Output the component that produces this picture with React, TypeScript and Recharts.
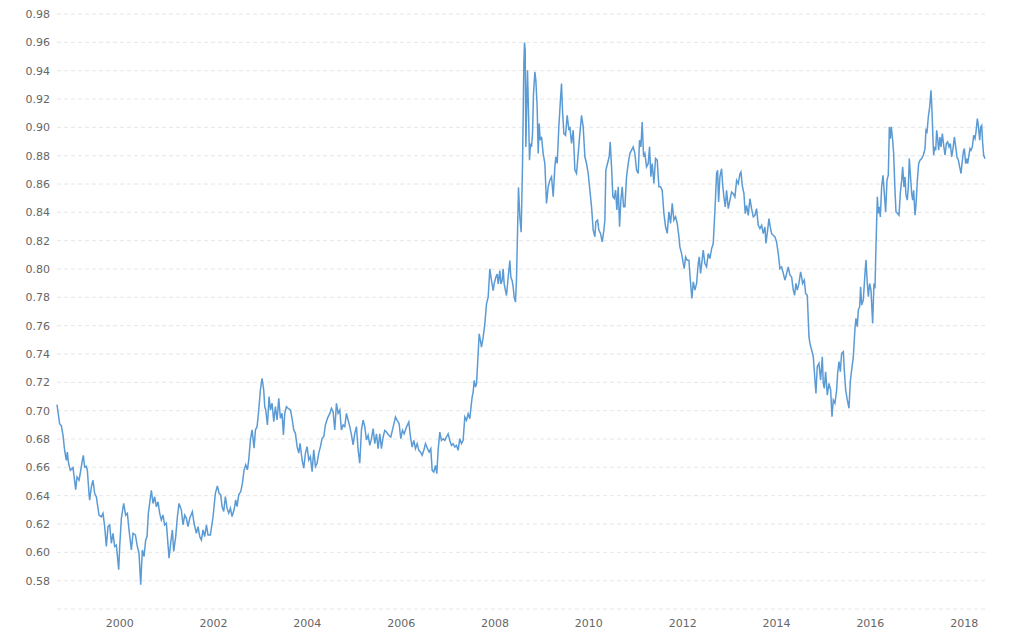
import { LineChart, Line, XAxis, YAxis, CartesianGrid } from "recharts";

const yearTicks = [2000, 2002, 2004, 2006, 2008, 2010, 2012, 2014, 2016, 2018];

const rateTicks = [
  0.56, 0.58, 0.6, 0.62, 0.64, 0.66, 0.68, 0.7, 0.72, 0.74, 0.76, 0.78, 0.8,
  0.82, 0.84, 0.86, 0.88, 0.9, 0.92, 0.94, 0.96, 0.98,
];

// [decimal year, rate]
const rates1998to2001: [number, number][] = [
  [1998.664, 0.7042], [1998.721, 0.6906], [1998.756, 0.6895], [1998.792, 0.6825],
  [1998.827, 0.6719], [1998.863, 0.6649], [1998.884, 0.6708], [1998.906, 0.6637],
  [1998.948, 0.6579], [1999.005, 0.6598], [1999.062, 0.6443], [1999.09, 0.6532],
  [1999.133, 0.6509], [1999.161, 0.656], [1999.204, 0.6649], [1999.225, 0.6684],
  [1999.254, 0.6602], [1999.289, 0.6607], [1999.311, 0.6579], [1999.346, 0.6415],
  [1999.36, 0.6368], [1999.396, 0.6462], [1999.431, 0.6509], [1999.467, 0.6415],
  [1999.503, 0.6392], [1999.559, 0.6263], [1999.609, 0.6251], [1999.645, 0.6275],
  [1999.68, 0.6181], [1999.716, 0.6041], [1999.751, 0.6181], [1999.787, 0.6193],
  [1999.822, 0.6064], [1999.858, 0.6134], [1999.893, 0.6041], [1999.929, 0.6052],
  [1999.979, 0.5877], [2000.0, 0.6041], [2000.036, 0.624], [2000.085, 0.6345],
  [2000.128, 0.6263], [2000.164, 0.6275], [2000.199, 0.6158], [2000.249, 0.6017],
  [2000.284, 0.6134], [2000.334, 0.6123], [2000.377, 0.6041], [2000.412, 0.5994],
  [2000.448, 0.5772], [2000.483, 0.6017], [2000.519, 0.597], [2000.554, 0.6087],
  [2000.583, 0.6111], [2000.611, 0.6275], [2000.675, 0.6438], [2000.711, 0.6345],
  [2000.746, 0.6392], [2000.782, 0.6321], [2000.817, 0.6357], [2000.853, 0.6275],
  [2000.888, 0.6228], [2000.924, 0.6263], [2000.959, 0.6193], [2000.995, 0.6205],
  [2001.052, 0.5959], [2001.087, 0.6064], [2001.123, 0.6158], [2001.151, 0.6006],
  [2001.194, 0.6111], [2001.23, 0.6251], [2001.265, 0.6345], [2001.315, 0.6298],
  [2001.35, 0.6193], [2001.386, 0.6263], [2001.421, 0.624], [2001.457, 0.6181],
  [2001.493, 0.624], [2001.549, 0.6287], [2001.585, 0.6205], [2001.635, 0.6134],
  [2001.67, 0.6181], [2001.706, 0.6111], [2001.741, 0.6087], [2001.777, 0.6158],
  [2001.812, 0.6111], [2001.848, 0.6193], [2001.883, 0.6123], [2001.933, 0.6123],
  [2001.99, 0.6251],
];

const rates2002to2005: [number, number][] = [
  [2002.04, 0.6417], [2002.083, 0.6469], [2002.118, 0.6417], [2002.154, 0.6406],
  [2002.182, 0.6323], [2002.217, 0.6288], [2002.253, 0.6394], [2002.288, 0.6312],
  [2002.324, 0.6276], [2002.36, 0.6312], [2002.395, 0.6253], [2002.438, 0.63],
  [2002.473, 0.637], [2002.502, 0.6323], [2002.537, 0.6406], [2002.58, 0.6429],
  [2002.616, 0.6488], [2002.651, 0.6582], [2002.687, 0.6617], [2002.722, 0.6582],
  [2002.751, 0.6652], [2002.786, 0.6793], [2002.822, 0.6864], [2002.864, 0.6735],
  [2002.893, 0.6864], [2002.928, 0.6887], [2002.964, 0.7005], [2002.999, 0.7146],
  [2003.035, 0.7228], [2003.07, 0.7146], [2003.092, 0.7028], [2003.113, 0.7005],
  [2003.149, 0.6899], [2003.184, 0.7099], [2003.213, 0.7005], [2003.248, 0.7052],
  [2003.284, 0.6923], [2003.319, 0.7028], [2003.355, 0.6934], [2003.39, 0.7087],
  [2003.426, 0.6946], [2003.461, 0.6981], [2003.49, 0.6829], [2003.518, 0.6981],
  [2003.554, 0.7028], [2003.589, 0.7017], [2003.639, 0.7005], [2003.674, 0.6946],
  [2003.71, 0.6864], [2003.746, 0.684], [2003.781, 0.6746], [2003.817, 0.67],
  [2003.845, 0.677], [2003.888, 0.6652], [2003.923, 0.6594], [2003.959, 0.67],
  [2003.994, 0.6746], [2004.03, 0.6652], [2004.065, 0.6676], [2004.101, 0.657],
  [2004.136, 0.6723], [2004.172, 0.6605], [2004.207, 0.6629], [2004.243, 0.67],
  [2004.279, 0.6746], [2004.314, 0.6805], [2004.35, 0.6817], [2004.385, 0.6899],
  [2004.428, 0.6946], [2004.478, 0.6981], [2004.513, 0.7017], [2004.549, 0.6993],
  [2004.584, 0.6864], [2004.62, 0.7052], [2004.655, 0.6981], [2004.691, 0.7005],
  [2004.726, 0.6864], [2004.762, 0.6899], [2004.797, 0.6887], [2004.833, 0.6981],
  [2004.868, 0.6934], [2004.904, 0.6887], [2004.94, 0.6829], [2004.975, 0.6758],
  [2005.011, 0.684], [2005.046, 0.6887], [2005.082, 0.6723], [2005.117, 0.6629],
  [2005.153, 0.6864], [2005.188, 0.6934], [2005.224, 0.6887], [2005.259, 0.6793],
];

const rates2005to2008: [number, number][] = [
  [2005.295, 0.6826], [2005.331, 0.6755], [2005.366, 0.6802], [2005.402, 0.6873],
  [2005.437, 0.6767], [2005.473, 0.6837], [2005.508, 0.6732], [2005.544, 0.6837],
  [2005.579, 0.6732], [2005.615, 0.6814], [2005.65, 0.6861], [2005.686, 0.6849],
  [2005.736, 0.6826], [2005.778, 0.6814], [2005.828, 0.6884], [2005.878, 0.6955],
  [2005.913, 0.6931], [2005.956, 0.6908], [2005.991, 0.6802], [2006.027, 0.6861],
  [2006.063, 0.6837], [2006.112, 0.6884], [2006.162, 0.692], [2006.198, 0.6814],
  [2006.233, 0.6743], [2006.269, 0.679], [2006.304, 0.6732], [2006.34, 0.6767],
  [2006.375, 0.672], [2006.411, 0.6708], [2006.446, 0.6685], [2006.482, 0.672],
  [2006.517, 0.6767], [2006.56, 0.6732], [2006.596, 0.6708], [2006.631, 0.6732],
  [2006.66, 0.6579], [2006.695, 0.6567], [2006.731, 0.6614], [2006.759, 0.6555],
  [2006.787, 0.672], [2006.823, 0.6849], [2006.858, 0.679], [2006.894, 0.6802],
  [2006.93, 0.679], [2006.965, 0.6814], [2007.001, 0.6837], [2007.036, 0.679],
  [2007.072, 0.6755], [2007.107, 0.6767], [2007.143, 0.6743], [2007.178, 0.6755],
  [2007.214, 0.672], [2007.249, 0.6802], [2007.285, 0.6767], [2007.32, 0.679],
  [2007.356, 0.6955], [2007.392, 0.6931], [2007.427, 0.6978], [2007.463, 0.6943],
  [2007.484, 0.7014], [2007.512, 0.7096], [2007.534, 0.7131], [2007.555, 0.7213],
  [2007.583, 0.7166], [2007.605, 0.719], [2007.64, 0.7401], [2007.662, 0.7542],
  [2007.69, 0.7495], [2007.711, 0.7448], [2007.747, 0.7519], [2007.783, 0.7613],
  [2007.818, 0.7754], [2007.854, 0.7801], [2007.889, 0.8001], [2007.925, 0.7918],
  [2007.96, 0.7848], [2007.981, 0.7895], [2008.017, 0.7942], [2008.046, 0.7965],
  [2008.067, 0.7895], [2008.102, 0.7989], [2008.124, 0.7895], [2008.152, 0.7918],
  [2008.173, 0.8001], [2008.195, 0.7895], [2008.223, 0.7848], [2008.245, 0.7813],
  [2008.28, 0.7942], [2008.316, 0.8059], [2008.337, 0.7942], [2008.365, 0.7918],
  [2008.387, 0.7871], [2008.408, 0.7801], [2008.436, 0.7766], [2008.458, 0.793],
  [2008.5, 0.8576], [2008.529, 0.8365], [2008.557, 0.8259], [2008.586, 0.8741],
  [2008.6, 0.9093], [2008.614, 0.9446], [2008.628, 0.9599],
];

const rates2008to2011: [number, number][] = [
  [2008.643, 0.9544], [2008.657, 0.8862], [2008.678, 0.9215], [2008.692, 0.9403],
  [2008.714, 0.9097], [2008.735, 0.8768], [2008.756, 0.8886], [2008.778, 0.8862],
  [2008.799, 0.8956], [2008.82, 0.9238], [2008.849, 0.9391], [2008.87, 0.9332],
  [2008.898, 0.9144], [2008.92, 0.8815], [2008.941, 0.9027], [2008.962, 0.8909],
  [2008.991, 0.8933], [2009.026, 0.8815], [2009.062, 0.8745], [2009.097, 0.8463],
  [2009.133, 0.858], [2009.168, 0.8627], [2009.204, 0.8651], [2009.24, 0.851],
  [2009.275, 0.8721], [2009.296, 0.8792], [2009.325, 0.8745], [2009.36, 0.9003],
  [2009.396, 0.9203], [2009.417, 0.9309], [2009.438, 0.9121], [2009.467, 0.8956],
  [2009.503, 0.8944], [2009.538, 0.9085], [2009.574, 0.898], [2009.595, 0.9003],
  [2009.63, 0.8886], [2009.666, 0.898], [2009.702, 0.8698], [2009.737, 0.8674],
  [2009.773, 0.8815], [2009.808, 0.8956], [2009.844, 0.9085], [2009.879, 0.9003],
  [2009.915, 0.8792], [2009.95, 0.8745], [2009.986, 0.8674], [2010.021, 0.8557],
  [2010.057, 0.8439], [2010.092, 0.8275], [2010.128, 0.8228], [2010.149, 0.8333],
  [2010.185, 0.8345], [2010.213, 0.8275], [2010.248, 0.8251], [2010.284, 0.8192],
  [2010.32, 0.8275], [2010.341, 0.8345], [2010.362, 0.8698], [2010.398, 0.8745],
  [2010.433, 0.8792], [2010.455, 0.8897], [2010.483, 0.8721], [2010.512, 0.851],
  [2010.54, 0.8498], [2010.569, 0.8557], [2010.597, 0.8416], [2010.625, 0.858],
  [2010.654, 0.8298], [2010.682, 0.8486], [2010.711, 0.858], [2010.739, 0.8439],
  [2010.768, 0.8439], [2010.803, 0.8651], [2010.839, 0.8745], [2010.874, 0.8815],
  [2010.91, 0.8839], [2010.945, 0.8862], [2010.981, 0.8815], [2011.016, 0.8698],
  [2011.052, 0.8674], [2011.08, 0.8909], [2011.109, 0.8862], [2011.137, 0.9038],
  [2011.166, 0.8792], [2011.194, 0.8815], [2011.229, 0.8721], [2011.265, 0.8745],
  [2011.293, 0.8862], [2011.322, 0.8651], [2011.35, 0.8745], [2011.386, 0.8604],
  [2011.421, 0.878], [2011.457, 0.8768], [2011.492, 0.858], [2011.528, 0.858],
  [2011.563, 0.8557], [2011.599, 0.8392], [2011.635, 0.8298], [2011.67, 0.8251],
  [2011.706, 0.8404], [2011.741, 0.8322], [2011.777, 0.8463], [2011.812, 0.8345],
  [2011.848, 0.8369], [2011.883, 0.8322], [2011.919, 0.8228],
];

const rates2012to2015: [number, number][] = [
  [2011.94, 0.8156], [2011.976, 0.8109], [2012.011, 0.8039], [2012.033, 0.8003],
  [2012.061, 0.8086], [2012.097, 0.8062], [2012.132, 0.8062], [2012.168, 0.7898],
  [2012.196, 0.7792], [2012.225, 0.7909], [2012.26, 0.7851], [2012.296, 0.7898],
  [2012.331, 0.8039], [2012.353, 0.8086], [2012.381, 0.7968], [2012.402, 0.8027],
  [2012.438, 0.8133], [2012.473, 0.8039], [2012.509, 0.8015], [2012.544, 0.8109],
  [2012.58, 0.8074], [2012.616, 0.8144], [2012.651, 0.818], [2012.687, 0.8415],
  [2012.722, 0.8673], [2012.743, 0.8697], [2012.765, 0.8473], [2012.793, 0.865],
  [2012.829, 0.8708], [2012.85, 0.8603], [2012.878, 0.8509], [2012.907, 0.8438],
  [2012.935, 0.8556], [2012.971, 0.8426], [2013.006, 0.8485], [2013.042, 0.8544],
  [2013.077, 0.8532], [2013.113, 0.8509], [2013.149, 0.8626], [2013.184, 0.8603],
  [2013.22, 0.8673], [2013.241, 0.8685], [2013.269, 0.8591], [2013.305, 0.8532],
  [2013.333, 0.8391], [2013.362, 0.845], [2013.397, 0.8379], [2013.433, 0.8497],
  [2013.468, 0.8426], [2013.504, 0.8368], [2013.539, 0.8379], [2013.575, 0.8426],
  [2013.61, 0.8309], [2013.646, 0.8285], [2013.682, 0.8309], [2013.717, 0.825],
  [2013.753, 0.8297], [2013.774, 0.818], [2013.81, 0.8274], [2013.838, 0.8356],
  [2013.866, 0.8297], [2013.895, 0.825], [2013.93, 0.8238], [2013.966, 0.8227],
  [2014.001, 0.8191], [2014.037, 0.8109], [2014.072, 0.8003], [2014.108, 0.8015],
  [2014.144, 0.7968], [2014.179, 0.7921], [2014.215, 0.7968], [2014.25, 0.8015],
  [2014.286, 0.7956], [2014.321, 0.7945], [2014.357, 0.7851], [2014.385, 0.7815],
  [2014.414, 0.7898], [2014.442, 0.7851], [2014.478, 0.7898], [2014.513, 0.798],
  [2014.534, 0.7945], [2014.556, 0.7898], [2014.591, 0.7921], [2014.62, 0.7827],
  [2014.655, 0.7815], [2014.691, 0.7522], [2014.712, 0.7475], [2014.748, 0.7428],
  [2014.783, 0.7381], [2014.819, 0.7216], [2014.84, 0.7122], [2014.868, 0.731],
  [2014.904, 0.7334], [2014.94, 0.7216], [2014.975, 0.7381], [2014.996, 0.7193],
  [2015.018, 0.7157], [2015.046, 0.7275], [2015.082, 0.711], [2015.117, 0.7193],
  [2015.153, 0.7146], [2015.181, 0.6958], [2015.21, 0.7075], [2015.245, 0.7052],
];

const rates2015to2018: [number, number][] = [
  [2015.281, 0.7146], [2015.302, 0.7264], [2015.331, 0.7346], [2015.359, 0.7275],
  [2015.387, 0.7405], [2015.423, 0.7416], [2015.444, 0.7287], [2015.473, 0.7146],
  [2015.508, 0.7076], [2015.544, 0.7017], [2015.572, 0.7205], [2015.601, 0.7287],
  [2015.636, 0.7381], [2015.672, 0.7581], [2015.693, 0.7651], [2015.721, 0.7593],
  [2015.743, 0.771], [2015.771, 0.7734], [2015.792, 0.7875], [2015.814, 0.7745],
  [2015.849, 0.7781], [2015.885, 0.7969], [2015.906, 0.8063], [2015.935, 0.7898],
  [2015.956, 0.7804], [2015.984, 0.7898], [2016.013, 0.7851], [2016.048, 0.7616],
  [2016.077, 0.7898], [2016.098, 0.7863], [2016.119, 0.8157], [2016.148, 0.8509],
  [2016.169, 0.8392], [2016.19, 0.8439], [2016.212, 0.8368], [2016.24, 0.858],
  [2016.269, 0.8662], [2016.297, 0.8533], [2016.325, 0.8403], [2016.354, 0.8627],
  [2016.382, 0.8662], [2016.404, 0.9003], [2016.425, 0.892], [2016.446, 0.9003],
  [2016.475, 0.8909], [2016.496, 0.8815], [2016.524, 0.8556], [2016.546, 0.8403],
  [2016.581, 0.8392], [2016.61, 0.838], [2016.638, 0.8533], [2016.667, 0.8627],
  [2016.688, 0.8721], [2016.716, 0.858], [2016.738, 0.865], [2016.759, 0.8521],
  [2016.787, 0.8486], [2016.809, 0.858], [2016.83, 0.8779], [2016.851, 0.8674],
  [2016.88, 0.8533], [2016.901, 0.8486], [2016.922, 0.8556], [2016.951, 0.838],
  [2016.972, 0.845], [2017.001, 0.8627], [2017.029, 0.8744], [2017.058, 0.8768],
  [2017.093, 0.8779], [2017.129, 0.8803], [2017.164, 0.885], [2017.185, 0.8979],
  [2017.207, 0.8967], [2017.235, 0.9073], [2017.264, 0.9144], [2017.292, 0.9261],
  [2017.313, 0.912], [2017.335, 0.8909], [2017.349, 0.8803], [2017.37, 0.8862],
  [2017.392, 0.8838], [2017.413, 0.8979], [2017.434, 0.892], [2017.455, 0.8838],
  [2017.484, 0.8932], [2017.505, 0.8862], [2017.534, 0.8956], [2017.562, 0.8873],
  [2017.591, 0.8803], [2017.619, 0.8885], [2017.647, 0.8897], [2017.676, 0.8862],
  [2017.704, 0.8885], [2017.733, 0.8791], [2017.761, 0.885], [2017.79, 0.8932],
  [2017.818, 0.8862], [2017.846, 0.8791], [2017.875, 0.8768], [2017.903, 0.8721],
  [2017.932, 0.8674], [2017.953, 0.8744], [2017.981, 0.8826], [2018.003, 0.885],
  [2018.031, 0.8744], [2018.052, 0.8779], [2018.074, 0.8744], [2018.095, 0.8791],
  [2018.123, 0.885], [2018.145, 0.8838], [2018.173, 0.8862], [2018.202, 0.8944],
  [2018.23, 0.892], [2018.251, 0.8967], [2018.28, 0.9061], [2018.301, 0.9014],
  [2018.33, 0.8909], [2018.351, 0.9003], [2018.372, 0.9014], [2018.394, 0.8885],
  [2018.415, 0.8803], [2018.443, 0.8779],
];

const series = [
  ...rates1998to2001,
  ...rates2002to2005,
  ...rates2005to2008,
  ...rates2008to2011,
  ...rates2012to2015,
  ...rates2015to2018,
].map(([year, rate]) => ({ year, rate }));

const tickStyle = { fill: "#666666", fontSize: 11, fontFamily: "DejaVu Sans" };

export default function App() {
  return (
    <div
      style={{
        position: "absolute",
        left: 0,
        top: 0,
        width: 1024,
        height: 632,
        background: "#ffffff",
      }}
    >
      <LineChart
        width={1024}
        height={632}
        data={series}
        margin={{ top: 14, right: 39, bottom: 0, left: 0 }}
      >
        <CartesianGrid vertical={false} stroke="#e6e6e6" strokeDasharray="4 3" />
        <XAxis
          dataKey="year"
          type="number"
          domain={["dataMin", "dataMax"]}
          ticks={yearTicks}
          interval={0}
          axisLine={false}
          tickLine={false}
          tickSize={0}
          tickMargin={10}
          height={23}
          tick={tickStyle}
          tickFormatter={(v: number) => String(v)}
        />
        <YAxis
          type="number"
          domain={[0.56, 0.98]}
          ticks={rateTicks}
          interval={0}
          axisLine={false}
          tickLine={false}
          tickSize={0}
          tickMargin={7}
          width={57}
          tick={tickStyle}
          tickFormatter={(v: number) => (Math.abs(v - 0.56) < 1e-6 ? "" : v.toFixed(2))}
        />
        <Line
          type="linear"
          dataKey="rate"
          stroke="#5b9bd5"
          strokeWidth={1.5}
          dot={false}
          isAnimationActive={false}
        />
      </LineChart>
    </div>
  );
}
